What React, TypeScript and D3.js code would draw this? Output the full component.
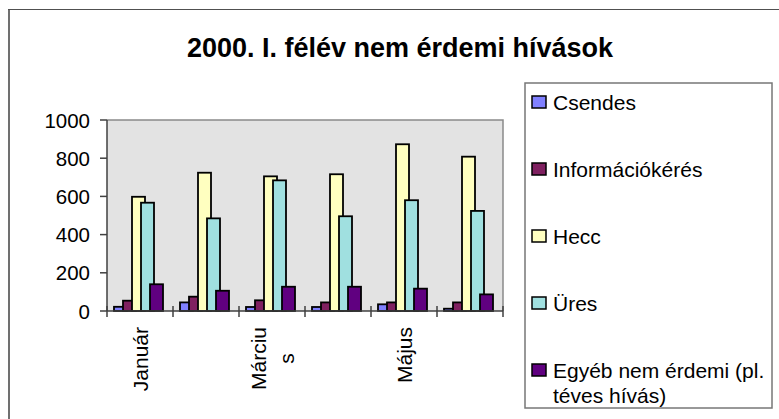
import React, { useRef, useEffect } from 'react';
import * as d3 from 'd3';

const months = ["Január", "Február", "Március", "Április", "Május", "Június"];
// only every second category gets a label, Március is wrapped
const axisLabels = [["Január"], [], ["Márciu", "s"], [], ["Május"], []];

const seriesNames = ["Csendes", "Információkérés", "Hecc", "Üres", "Egyéb nem érdemi (pl. téves hívás)"];
const legendLines = [["Csendes"], ["Információkérés"], ["Hecc"], ["Üres"], ["Egyéb nem érdemi (pl.", "téves hívás)"]];
const seriesColors = ["#8080ff", "#7f2060", "#ffffc0", "#a0e0e0", "#600080"];

const csendes = [22, 45, 21, 21, 35, 12];
const informacio = [54, 75, 56, 45, 45, 45];
const hecc = [598, 724, 705, 716, 873, 808];
const ures = [567, 485, 684, 496, 580, 524];
const egyeb = [140, 106, 127, 127, 117, 87];

const yTicks = [0, 200, 400, 600, 800, 1000];

const title = "2000. I. félév nem érdemi hívások";
const font = "'Liberation Sans', Arial, sans-serif";

const App = () => {
    const svgRef = useRef<SVGSVGElement>(null);

    useEffect(() => {
        const width = 779;
        const height = 419;
        const plot = { left: 107, right: 503, top: 120, bottom: 311 };
        const series = [csendes, informacio, hecc, ures, egyeb];

        const svg = d3.select(svgRef.current);
        svg.selectAll("*").remove();
        svg.attr("width", width).attr("height", height);

        svg.append("rect").attr("width", width).attr("height", height).attr("fill", "#fff");

        // chart frame (only top and left edge are inside the picture)
        svg.append("line").attr("x1", 9).attr("x2", 9).attr("y1", 9).attr("y2", height)
            .attr("stroke", "#707070").attr("stroke-width", 2);
        svg.append("line").attr("x1", 8).attr("x2", width).attr("y1", 9.5).attr("y2", 9.5)
            .attr("stroke", "#505050").attr("stroke-width", 1);

        svg.append("text")
            .attr("x", 400).attr("y", 57)
            .attr("text-anchor", "middle")
            .style("font-family", font).style("font-size", "27px").style("font-weight", "bold")
            .text(title);

        const xScale = d3.scaleBand()
            .domain(months)
            .range([plot.left, plot.right])
            .padding(0);

        const yScale = d3.scaleLinear()
            .domain([0, 1000])
            .range([plot.bottom, plot.top]);

        // overlapping bars inside each category
        const barWidth = 13;
        const inner = d3.scalePoint()
            .domain(seriesNames)
            .range([7, 43]);

        svg.append("rect")
            .attr("x", plot.left).attr("y", plot.top)
            .attr("width", plot.right - plot.left).attr("height", plot.bottom - plot.top)
            .attr("fill", "#e3e3e3");
        svg.append("path")
            .attr("d", `M${plot.left},${plot.top}H${plot.right}V${plot.bottom}`)
            .attr("fill", "none").attr("stroke", "#8a8a8a").attr("stroke-width", 1.5);

        series.forEach((values, s) => {
            svg.append("g").selectAll("rect")
                .data(values)
                .enter()
                .append("rect")
                .attr("x", (d, i) => xScale(months[i]) + inner(seriesNames[s]))
                .attr("y", d => yScale(d))
                .attr("width", barWidth)
                .attr("height", d => yScale(0) - yScale(d))
                .attr("fill", seriesColors[s])
                .attr("stroke", "#000")
                .attr("stroke-width", 1.8);
        });

        // y axis
        svg.append("line").attr("x1", plot.left).attr("x2", plot.left)
            .attr("y1", plot.top).attr("y2", plot.bottom)
            .attr("stroke", "#404040").attr("stroke-width", 1.5);
        yTicks.forEach(t => {
            svg.append("line").attr("x1", plot.left - 7).attr("x2", plot.left)
                .attr("y1", yScale(t)).attr("y2", yScale(t))
                .attr("stroke", "#404040").attr("stroke-width", 1.5);
            svg.append("text")
                .attr("x", 90).attr("y", yScale(t) + 7.5)
                .attr("text-anchor", "end")
                .style("font-family", font).style("font-size", "20.5px")
                .text(t);
        });

        // x axis
        svg.append("line").attr("x1", plot.left).attr("x2", plot.right)
            .attr("y1", plot.bottom).attr("y2", plot.bottom)
            .attr("stroke", "#404040").attr("stroke-width", 1.5);
        const boundaries = months.map(m => xScale(m)).concat([plot.right]);
        boundaries.forEach(bx => {
            svg.append("line").attr("x1", bx).attr("x2", bx)
                .attr("y1", plot.bottom - 5).attr("y2", plot.bottom + 6)
                .attr("stroke", "#404040").attr("stroke-width", 1.5);
        });

        axisLabels.forEach((lines, i) => {
            if (!lines.length) return;
            const cx = xScale(months[i]) + xScale.bandwidth() / 2;
            const texts = lines.map((line, k) => {
                const bx = cx + (k - (lines.length - 1) / 2) * 28 + 7.5;
                return svg.append("text")
                    .attr("text-anchor", "middle")
                    .attr("data-x", bx)
                    .style("font-family", font).style("font-size", "21px")
                    .text(line);
            });
            const longest = d3.max(texts, t => (t.node() as SVGTextElement).getComputedTextLength()) || 0;
            const cy = 327 + longest / 2;
            texts.forEach(t => {
                t.attr("transform", `translate(${t.attr("data-x")},${cy}) rotate(-90)`);
            });
        });

        // legend
        const legend = { x: 525, y: 83, w: 247, h: 325 };
        svg.append("rect")
            .attr("x", legend.x).attr("y", legend.y)
            .attr("width", legend.w).attr("height", legend.h)
            .attr("fill", "#fff").attr("stroke", "#777").attr("stroke-width", 1.5);

        const legendY = d3.scalePoint()
            .domain(seriesNames)
            .range([102, 370]);

        seriesNames.forEach((name, s) => {
            const cy = legendY(name);
            svg.append("rect")
                .attr("x", 532).attr("y", cy - 6)
                .attr("width", 14).attr("height", 12)
                .attr("fill", seriesColors[s])
                .attr("stroke", "#000").attr("stroke-width", 1.5);
            legendLines[s].forEach((line, k) => {
                svg.append("text")
                    .attr("x", 553).attr("y", cy + 7.5 + k * 25)
                    .style("font-family", font).style("font-size", "21px")
                    .text(line);
            });
        });
    }, []);

    return <svg ref={svgRef} style={{ position: "absolute", left: 0, top: 0 }}></svg>;
};

export default App;
